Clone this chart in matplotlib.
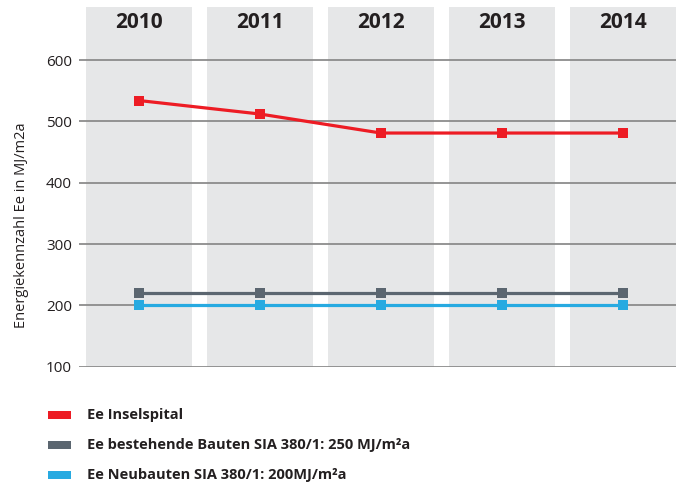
import matplotlib
matplotlib.use("Agg")
import matplotlib.pyplot as plt
from matplotlib.patches import Rectangle
import matplotlib.transforms as mtransforms

plt.rcParams['font.family'] = ['Open Sans', 'DejaVu Sans']

years = ["2010", "2011", "2012", "2013", "2014"]
inselspital = [534, 512, 481, 481, 481]
bestehende = [220, 220, 220, 220, 220]
neubauten = [200, 200, 200, 200, 200]
yticks = [100, 200, 300, 400, 500, 600]
series_labels = ["Ee Inselspital",
                 "Ee bestehende Bauten SIA 380/1: 250 MJ/m²a",
                 "Ee Neubauten SIA 380/1: 200MJ/m²a"]
colors = ["#ED1C24", "#5B6670", "#27AAE1"]

W, H = 678, 482
fig = plt.figure(figsize=(W / 100, H / 100), dpi=100)
ax = fig.add_axes([79 / W, (H - 366.7) / H, (676 - 79) / W, (366.7 - 7) / H])

x = list(range(len(years)))
ylo, yhi = 100, 686.5
ax.set_xlim(-0.496, 4.44)
ax.set_ylim(ylo, yhi)

# background columns
for xi in x:
    ax.add_patch(Rectangle((xi - 0.438, ylo), 0.876, yhi - ylo,
                           facecolor="#E6E7E8", edgecolor="none", zorder=0))

# gridlines
for yt in yticks:
    ax.axhline(yt, color="#8C8C8C", lw=1.3, zorder=1)

for vals, c in zip([inselspital, bestehende, neubauten], colors):
    ax.plot(x, vals, color=c, lw=2.3, marker="s", markersize=6.5,
            markeredgewidth=0, zorder=3)

trans = mtransforms.blended_transform_factory(ax.transData, ax.transAxes)
for xi, yr in zip(x, years):
    ax.text(xi, 0.958, yr, transform=trans, ha="center", va="center",
            fontsize=15, fontweight="bold", color="#231F20")

ax.set_yticks(yticks)
ax.set_yticklabels([str(v) for v in yticks], fontsize=11, color="#231F20")
ax.set_xticks([])
ax.tick_params(axis="y", length=0, pad=5)
for s in ax.spines.values():
    s.set_visible(False)

fig.text(22 / W, 1 - 225 / H, "Energiekennzahl Ee in MJ/m2a", rotation=90,
         ha="center", va="center", fontsize=10.5, color="#231F20")

# legend
leg_y = [415, 445, 475]
for ly, lab, c in zip(leg_y, series_labels, colors):
    fig.patches.append(Rectangle((48 / W, (H - ly - 4) / H), 23 / W, 8 / H,
                                 facecolor=c, edgecolor="none",
                                 transform=fig.transFigure, figure=fig))
    fig.text(87 / W, 1 - ly / H, lab, ha="left", va="center",
             fontsize=10.5, fontweight="bold", color="#231F20")

fig.savefig("out.png", dpi=100)
